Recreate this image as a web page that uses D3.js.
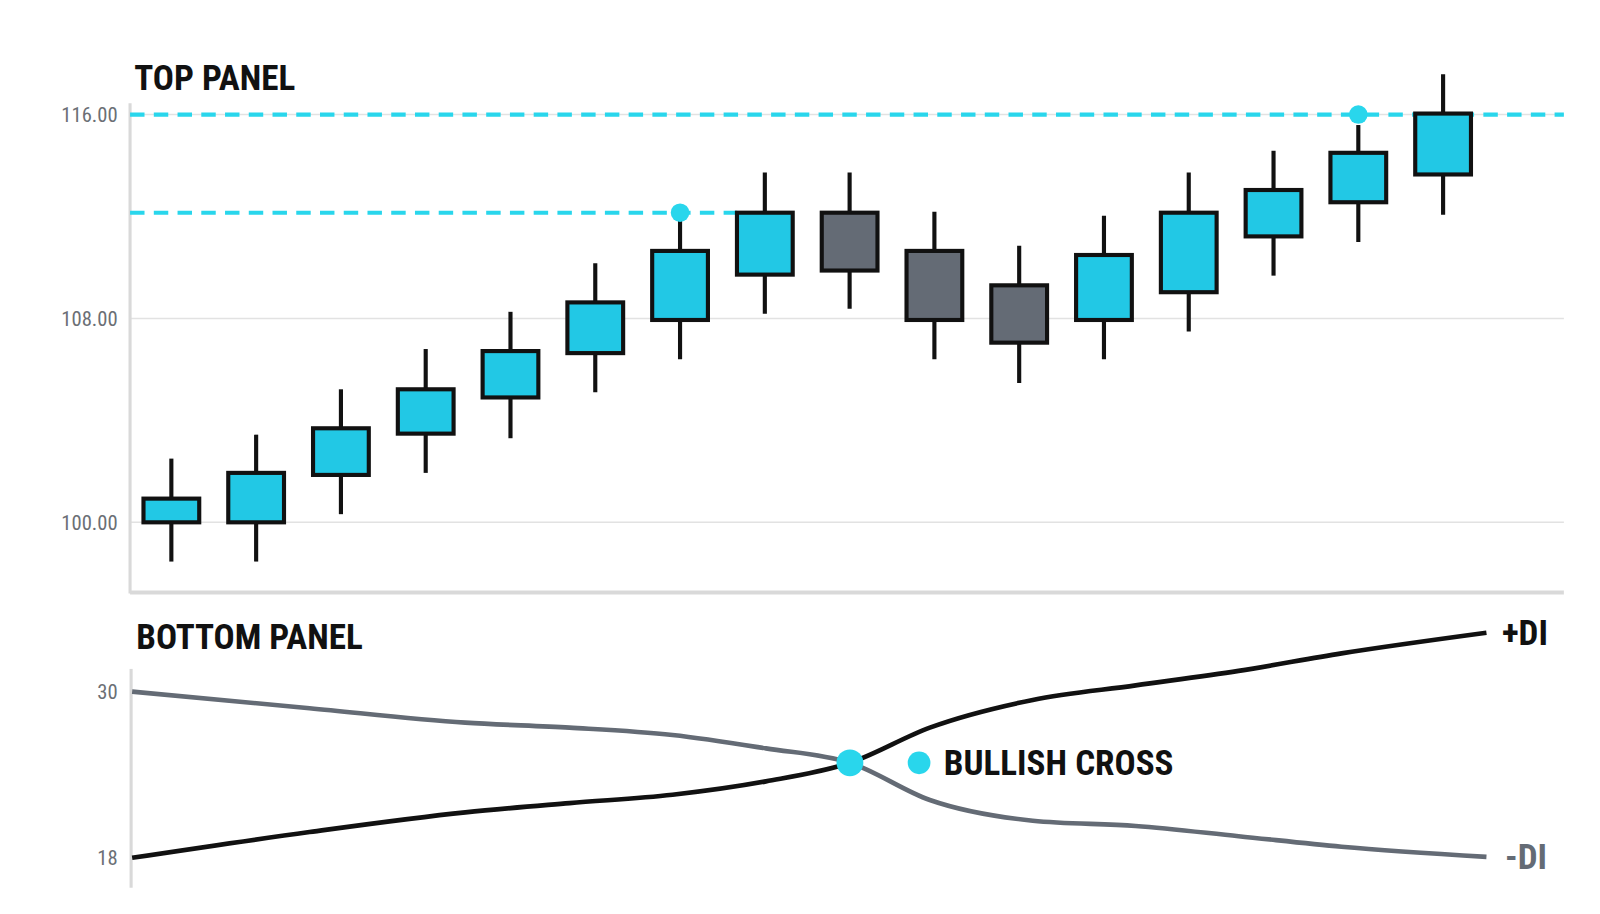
<!DOCTYPE html>
<html><head><meta charset="utf-8">
<script src="https://cdn.jsdelivr.net/npm/d3@7"></script>
<style>body{margin:0;background:#fff}svg{display:block}</style>
</head><body><svg id="c" width="1600" height="914"></svg>
<script>
const opens  = [100,100,101.86,103.48,104.9,106.64,107.94,109.72,112.15,110.65,109.3,107.94,109.03,111.22,112.56,113.65];
const closes = [100.93,101.94,103.69,105.22,106.72,108.63,110.65,112.15,109.88,107.94,107.05,110.49,112.15,113.04,114.5,116.04];
const highs  = [102.5,103.44,105.22,106.8,108.26,110.17,111.83,113.73,113.73,112.19,110.85,112.03,113.73,114.58,115.59,117.58];
const lows   = [98.46,98.46,100.32,101.94,103.3,105.1,106.4,108.18,108.38,106.4,105.47,106.4,107.49,109.68,111,112.07];
const priceTicks = [100,108,116];
const levels = [{v:112.15,dot:6,endIdx:7},{v:116,dot:14,endIdx:null}];
const diT = [0,13.1,24.6,32.3,39.9,46.8,53,58.9,66.5,74.1,81.7,89.3,100];
const plusDI = [18,19.86,21.28,21.95,22.55,23.52,24.86,27.4,29.4,30.45,31.5,32.76,34.25];
const minusDI = [30,28.8,27.76,27.4,26.87,25.9,24.86,22.17,20.68,20.3,19.56,18.8,18.07];
const diTicks = [18,30];
const crossT = 53, crossV = 24.86;

const root = d3.select('#c');
const svg = root.append('g').attr('transform','scale('+(1600/1550)+')');
const F = '"Liberation Sans Narrow","Roboto Condensed",Roboto,sans-serif';
const CY='#22c8e5', GR='#646b75', CYD='#29d6ec';

// top panel
const x = d3.scalePoint().domain(d3.range(16)).range([166,1398]);
const bw = 54;
const y = d3.scaleLinear().domain([100,116]).range([506,111]);
svg.append('g').selectAll('line').data(priceTicks).join('line')
  .attr('x1',126).attr('x2',1515).attr('y1',d=>y(d)).attr('y2',d=>y(d)).attr('stroke','#e2e2e2').attr('stroke-width',1.5);
svg.append('g').selectAll('text').data(priceTicks).join('text')
  .attr('x',114).attr('y',d=>y(d)).attr('dy','0.35em').attr('text-anchor','end')
  .attr('font-family',F).attr('font-size',20).attr('fill','#6b6f75').text(d=>d.toFixed(2));
svg.append('line').attr('x1',126).attr('x2',126).attr('y1',100).attr('y2',575).attr('stroke','#d9d9d9').attr('stroke-width',3);
svg.append('line').attr('x1',126).attr('x2',1515).attr('y1',574).attr('y2',574).attr('stroke','#d9d9d9').attr('stroke-width',4);
svg.append('text').attr('x',130).attr('y',87).attr('font-family',F).attr('font-weight','bold').attr('font-size',34).attr('fill','#111').text('TOP PANEL');
const cx=i=>x(i);
levels.forEach(l=>{
  const x2 = l.endIdx==null?1515:x(l.endIdx)-bw/2;
  svg.append('line').attr('x1',126).attr('x2',x2).attr('y1',y(l.v)).attr('y2',y(l.v))
    .attr('stroke',CYD).attr('stroke-width',4).attr('stroke-dasharray','14,9');
});
const g = svg.append('g').selectAll('g').data(d3.range(16)).join('g');
g.append('line').attr('x1',cx).attr('x2',cx).attr('y1',i=>y(highs[i])).attr('y2',i=>y(lows[i])).attr('stroke','#111').attr('stroke-width',4);
g.append('rect').attr('x',i=>x(i)-bw/2).attr('width',bw)
  .attr('y',i=>y(Math.max(opens[i],closes[i]))).attr('height',i=>Math.abs(y(opens[i])-y(closes[i])))
  .attr('fill',i=>closes[i]>=opens[i]?CY:GR).attr('stroke','#111').attr('stroke-width',4);
levels.forEach(l=>{
  svg.append('circle').attr('cx',cx(l.dot)).attr('cy',y(l.v)).attr('r',9).attr('fill',CYD);
});

// bottom panel
const xt = d3.scaleLinear().domain([0,100]).range([128,1440]);
const yd = d3.scaleLinear().domain([18,30]).range([831,670]);
svg.append('line').attr('x1',127).attr('x2',127).attr('y1',648).attr('y2',860).attr('stroke','#d9d9d9').attr('stroke-width',3);
svg.append('g').selectAll('text').data(diTicks).join('text')
  .attr('x',114).attr('y',d=>yd(d)).attr('dy','0.35em').attr('text-anchor','end')
  .attr('font-family',F).attr('font-size',20).attr('fill','#6b6f75').text(d=>d);
svg.append('text').attr('x',132).attr('y',629).attr('font-family',F).attr('font-weight','bold').attr('font-size',34).attr('fill','#111').text('BOTTOM PANEL');
const line=arr=>d3.line().x((d,i)=>xt(diT[i])).y(d=>yd(d)).curve(d3.curveMonotoneX)(arr);
svg.append('path').attr('d',line(minusDI)).attr('fill','none').attr('stroke',GR).attr('stroke-width',4.5);
svg.append('path').attr('d',line(plusDI)).attr('fill','none').attr('stroke','#111').attr('stroke-width',4.5);
svg.append('circle').attr('cx',xt(crossT)).attr('cy',yd(crossV)).attr('r',13).attr('fill',CYD);
svg.append('circle').attr('cx',xt(crossT)+67).attr('cy',yd(crossV)).attr('r',11).attr('fill',CYD);
svg.append('text').attr('x',xt(crossT)+91).attr('y',yd(crossV)).attr('dy','0.36em').attr('font-family',F).attr('font-weight','bold').attr('font-size',34).attr('fill','#111').text('BULLISH CROSS');
svg.append('text').attr('x',1455).attr('y',yd(plusDI[12])).attr('dy','0.36em').attr('font-family',F).attr('font-weight','bold').attr('font-size',34).attr('fill','#111').text('+DI');
svg.append('text').attr('x',1458).attr('y',yd(minusDI[12])).attr('dy','0.36em').attr('font-family',F).attr('font-weight','bold').attr('font-size',34).attr('fill',GR).text('-DI');
</script></body></html>
